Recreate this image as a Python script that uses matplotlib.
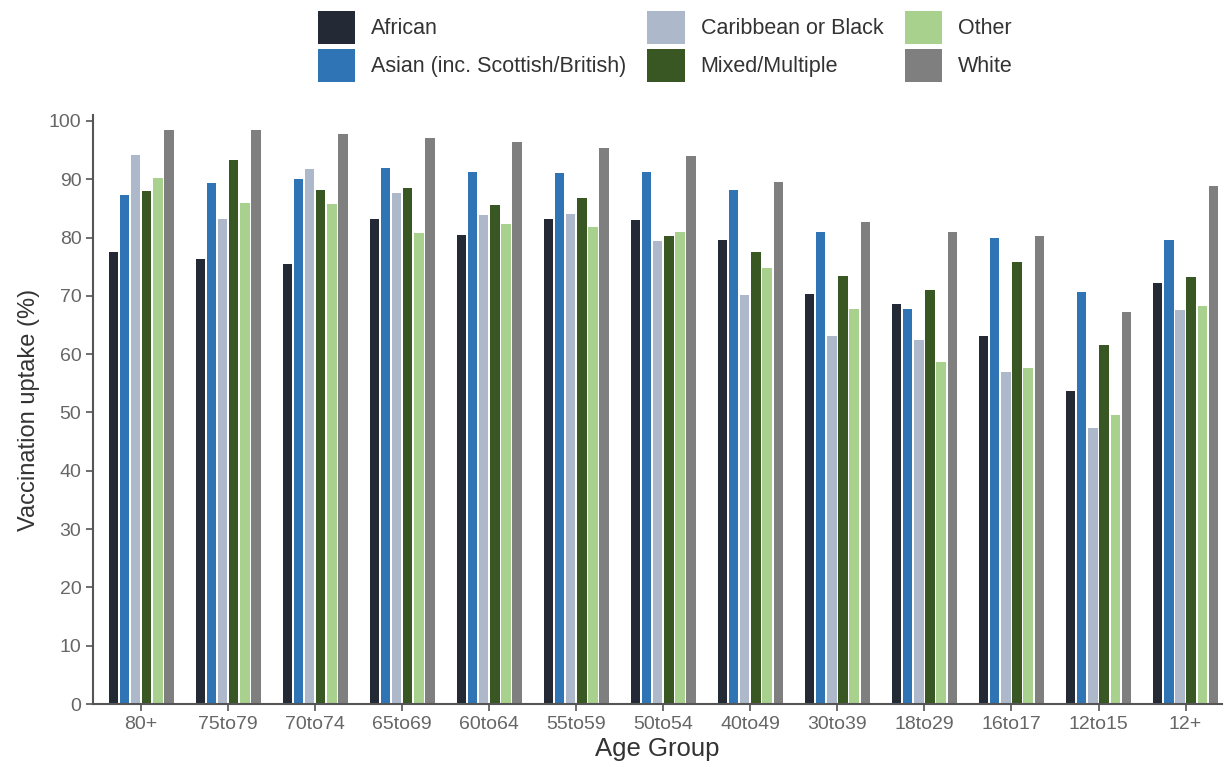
import numpy as np
import matplotlib
matplotlib.use('Agg')
import matplotlib.pyplot as plt

plt.rcParams['font.family'] = ['Liberation Sans', 'DejaVu Sans']

groups = ['80+', '75to79', '70to74', '65to69', '60to64', '55to59', '50to54',
          '40to49', '30to39', '18to29', '16to17', '12to15', '12+']
series = ['African', 'Asian (inc. Scottish/British)', 'Caribbean or Black',
          'Mixed/Multiple', 'Other', 'White']
african = [77.5, 76.3, 75.5, 83.1, 80.4, 83.2, 83.0, 79.6, 70.3, 68.6, 63.2, 53.7, 72.2]
asian = [87.3, 89.3, 90.1, 91.9, 91.3, 91.0, 91.3, 88.1, 81.0, 67.7, 80.0, 70.7, 79.5]
caribbean = [94.2, 83.1, 91.7, 87.6, 83.9, 84.0, 79.4, 70.1, 63.2, 62.5, 56.9, 47.3, 67.6]
mixed = [88.0, 93.3, 88.1, 88.5, 85.6, 86.7, 80.3, 77.6, 73.4, 71.0, 75.8, 61.6, 73.3]
other = [90.2, 85.9, 85.7, 80.8, 82.4, 81.8, 80.9, 74.7, 67.7, 58.7, 57.6, 49.6, 68.3]
white = [98.5, 98.5, 97.8, 97.1, 96.3, 95.3, 94.0, 89.5, 82.7, 81.0, 80.3, 67.3, 88.9]
values = [african, asian, caribbean, mixed, other, white]
colors = ['#232a36', '#2f74b5', '#adb9ca', '#385723', '#a9d18e', '#7f7f7f']

fig = plt.figure(figsize=(12.27, 7.67), dpi=100)
ax = fig.add_axes([0.076, 0.082, 0.92, 0.768])

x = np.arange(len(groups))
step = 0.128
for i, (name, vals, c) in enumerate(zip(series, values, colors)):
    ax.bar(x + (i - 2.5) * step, vals, width=0.108, color=c, label=name)

ax.set_xlim(-0.55, 12.42)
ax.set_ylim(0, 101)
ax.set_yticks(range(0, 101, 10))
ax.set_xticks(x)
ax.set_xticklabels(groups)
for s in ['top', 'right']:
    ax.spines[s].set_visible(False)
for s in ['left', 'bottom']:
    ax.spines[s].set_color('#555555')
    ax.spines[s].set_linewidth(1.5)
ax.tick_params(colors='#555555', labelcolor='#666666', labelsize=14, length=5, width=1.2)
ax.set_xlabel('Age Group', fontsize=18.5, color='#333333', labelpad=3)
ax.set_ylabel('Vaccination uptake (%)', fontsize=17, color='#333333', labelpad=6)

fig.legend(loc='upper left', bbox_to_anchor=(0.243, 1.011), ncol=3, frameon=False,
           fontsize=15.5, handlelength=1.72, handleheight=1.98, columnspacing=1.0,
           handletextpad=0.75, labelspacing=0.23, labelcolor='#333333')

fig.savefig('out.png', dpi=100)
